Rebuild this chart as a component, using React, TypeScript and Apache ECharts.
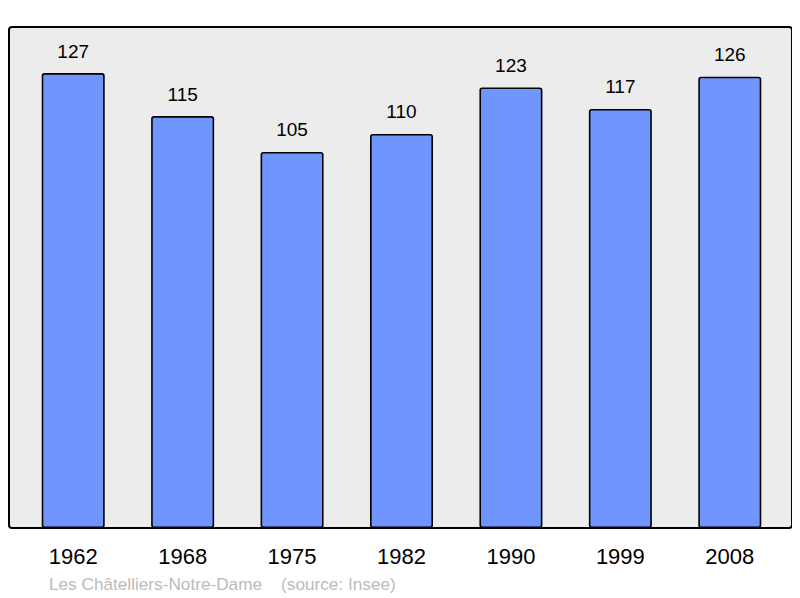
import React, { useEffect, useRef } from "react";
import * as echarts from "echarts";

const years = ["1962", "1968", "1975", "1982", "1990", "1999", "2008"];
const population = [127, 115, 105, 110, 123, 117, 126];
const footer = "Les Châtelliers-Notre-Dame    (source: Insee)";

const App = () => {
  const chartRef = useRef<HTMLDivElement>(null);

  useEffect(() => {
    if (!chartRef.current) return;
    const chart = echarts.init(chartRef.current, null, { renderer: "svg" });

    chart.setOption({
      animation: false,
      textStyle: { fontFamily: "Liberation Sans, Arial, sans-serif" },
      grid: { left: 10.5, top: 18.5, width: 766, height: 501.5 },
      graphic: [
        {
          type: "rect",
          z: -10,
          silent: true,
          shape: { x: 1, y: 19, width: 783, height: 501, r: 3 },
          style: { fill: "#ececec", stroke: "#000", lineWidth: 2 },
        },
        {
          type: "text",
          left: 41,
          top: 567,
          style: {
            text: footer,
            fill: "#bbbbbb",
            fontSize: 17.2,
            fontFamily: "Liberation Sans, Arial, sans-serif",
          },
        },
      ],
      xAxis: {
        type: "category",
        data: years,
        axisLine: { show: false },
        axisTick: { show: false },
        axisLabel: { color: "#000", fontSize: 22, margin: 17 },
      },
      yAxis: {
        type: "value",
        min: 0,
        max: 140,
        show: false,
        splitLine: { show: false },
      },
      series: [
        {
          type: "bar",
          data: population,
          barWidth: 63,
          itemStyle: {
            color: "#7095ff",
            borderColor: "#000",
            borderWidth: 1.6,
            borderRadius: 2,
          },
          label: {
            show: true,
            position: "top",
            distance: 12.5,
            color: "#000",
            fontSize: 19,
          },
        },
      ],
    });

    return () => chart.dispose();
  }, []);

  return <div ref={chartRef} style={{ width: "792px", height: "590px" }} />;
};

export default App;
